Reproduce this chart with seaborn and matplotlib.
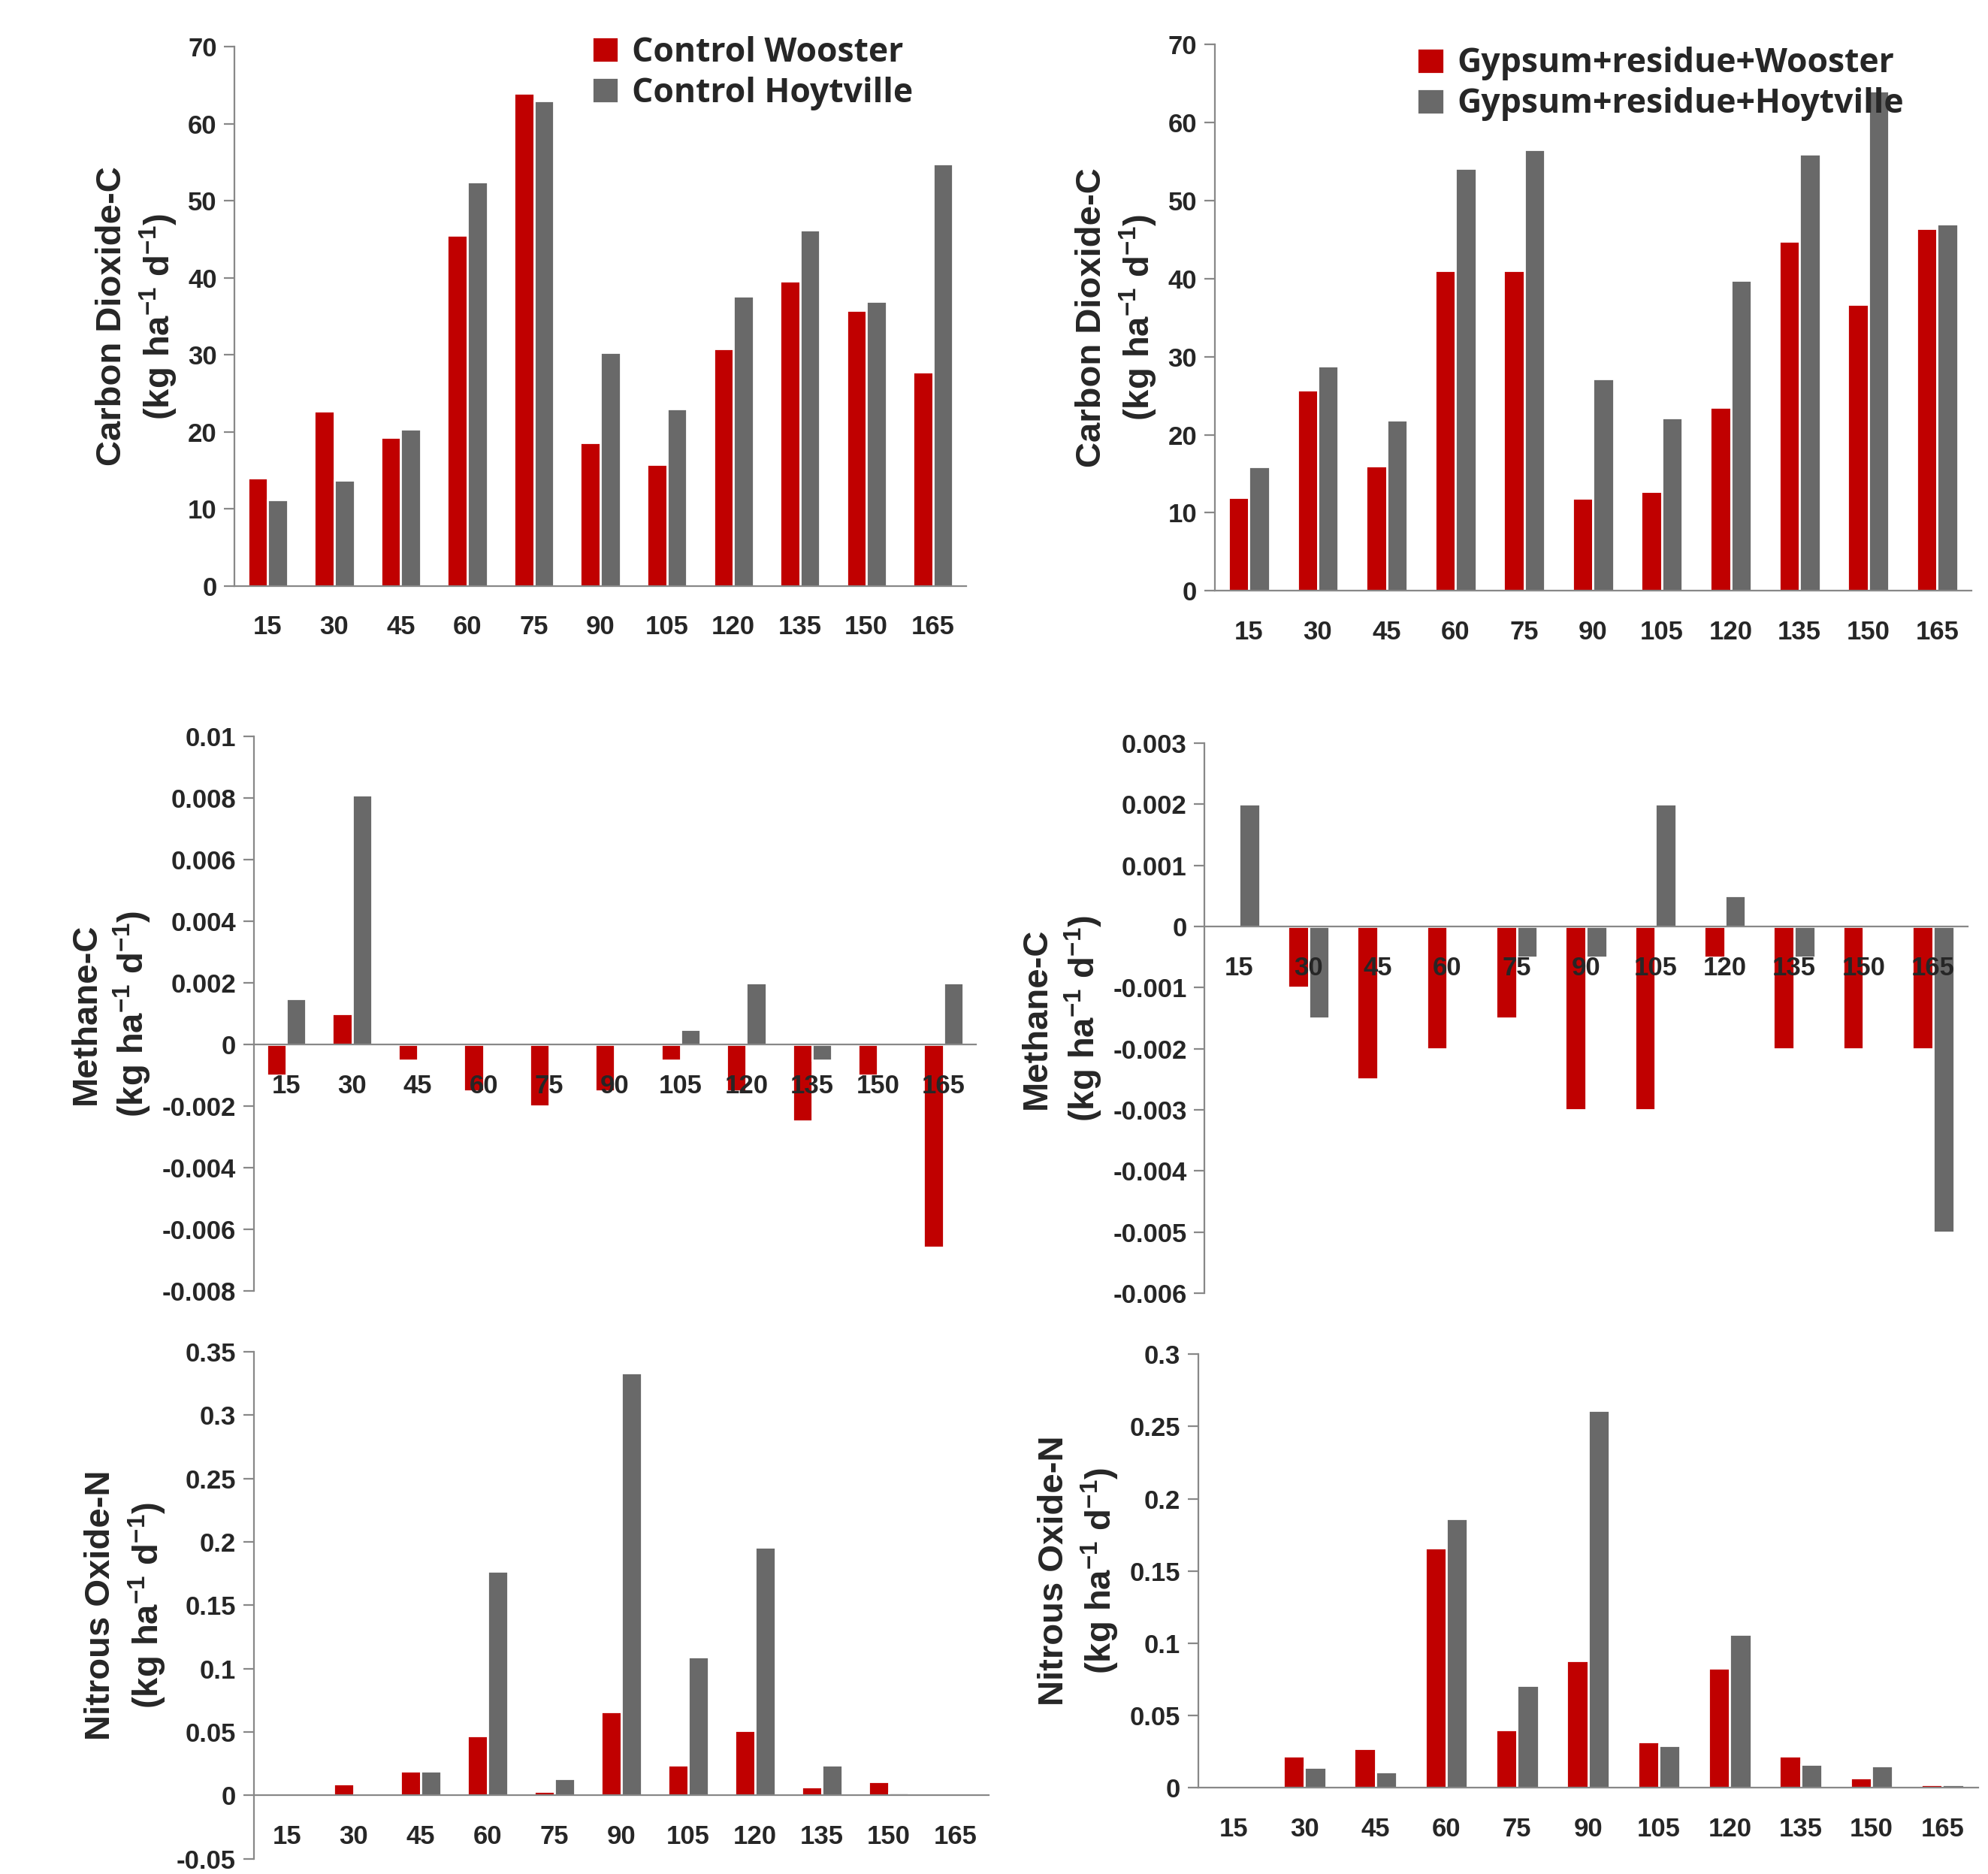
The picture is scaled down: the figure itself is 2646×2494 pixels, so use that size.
import numpy as np
import pandas as pd
import matplotlib
matplotlib.use("Agg")
import matplotlib.pyplot as plt
import seaborn as sns

sns.set_style("white")
plt.rcParams['font.family'] = ['Liberation Sans', 'DejaVu Sans']
plt.rcParams['font.weight'] = 'bold'
plt.rcParams['mathtext.fontset'] = 'custom'
plt.rcParams['mathtext.rm'] = 'Liberation Sans:bold'
plt.rcParams['mathtext.bf'] = 'Liberation Sans:bold'

days = [15, 30, 45, 60, 75, 90, 105, 120, 135, 150, 165]

co2_ctrl_wooster = [14, 22.7, 19.3, 45.5, 64, 18.6, 15.8, 30.8, 39.6, 35.8, 27.8]
co2_ctrl_hoyt = [11.2, 13.7, 20.4, 52.5, 63, 30.3, 23, 37.6, 46.2, 37, 54.8]
co2_gyp_wooster = [12, 25.7, 16, 41, 41, 11.9, 12.7, 23.5, 44.8, 36.7, 46.4]
co2_gyp_hoyt = [15.9, 28.8, 21.9, 54.1, 56.5, 27.2, 22.2, 39.8, 56, 64, 47]

ch4_ctrl_wooster = [-0.001, 0.001, -0.0005, -0.0015, -0.002, -0.0015, -0.0005, -0.0015, -0.0025, -0.001, -0.0066]
ch4_ctrl_hoyt = [0.0015, 0.0081, 0, 0, 0, 0, 0.0005, 0.002, -0.0005, 0, 0.002]
ch4_gyp_wooster = [0.00002, -0.001, -0.0025, -0.002, -0.0015, -0.003, -0.003, -0.0005, -0.002, -0.002, -0.002]
ch4_gyp_hoyt = [0.002, -0.0015, 0, 0, -0.0005, -0.0005, 0.002, 0.0005, -0.0005, 0, -0.005]

n2o_ctrl_wooster = [0, 0.009, 0.019, 0.047, 0.003, 0.066, 0.024, 0.051, 0.007, 0.011, 0.001]
n2o_ctrl_hoyt = [0, 0.001, 0.019, 0.177, 0.013, 0.333, 0.109, 0.196, 0.024, 0.002, 0.001]
n2o_gyp_wooster = [0, 0.022, 0.027, 0.166, 0.04, 0.088, 0.032, 0.083, 0.022, 0.007, 0.002]
n2o_gyp_hoyt = [0, 0.014, 0.011, 0.186, 0.071, 0.261, 0.029, 0.106, 0.016, 0.015, 0.002]

ctrl_names = ["Control Wooster", "Control Hoytville"]
gyp_names = ["Gypsum+residue+Wooster", "Gypsum+residue+Hoytville"]
colors = ["#C00000", "#696969"]

W, H = 1568, 1478
fig = plt.figure(figsize=(13.23, 12.47), dpi=200)


def make_axes(x0, y0, x1, y1):
    return fig.add_axes([x0 / W, 1 - y1 / H, (x1 - x0) / W, (y1 - y0) / H])


def panel(box, w, h, names, ylim, yticks, fmt, ylabel, legend=None):
    ax = make_axes(*box)
    df = pd.DataFrame({"Day": [str(d) for d in days] * 2,
                       "Value": w + h,
                       "Series": [names[0]] * len(days) + [names[1]] * len(days)})
    sns.barplot(data=df, x="Day", y="Value", hue="Series", palette=colors,
                width=0.6, saturation=1, ax=ax, legend=legend is not None)
    ax.set_ylim(*ylim)
    ax.set_xlim(-0.5, len(days) - 0.5)
    ax.set_yticks(yticks)
    ax.set_yticklabels([fmt(v) for v in yticks])
    ax.set_xticks(range(len(days)))
    ax.set_xticklabels([str(d) for d in days])
    ax.set_xticks(np.arange(-0.5, len(days)), minor=True)
    ax.tick_params(axis="both", labelsize=12.5)
    ax.tick_params(axis="x", which="major", length=0, pad=14)
    ax.tick_params(axis="x", which="minor", length=6, color="#888888", direction="out")
    ax.tick_params(axis="y", length=5, color="#888888", direction="out", left=True)
    for s in ["top", "right"]:
        ax.spines[s].set_visible(False)
    ax.spines["bottom"].set_position(("data", 0))
    ax.spines["bottom"].set_color("#888888")
    ax.spines["left"].set_color("#888888")
    ax.xaxis.set_zorder(5)
    ax.set_xlabel("")
    ax.set_ylabel(ylabel, fontweight="bold", fontsize=17, linespacing=1.3)
    ax.grid(False)
    if legend is not None:
        ax.legend(loc="upper left", bbox_to_anchor=legend, frameon=False,
                  prop={"family": "Open Sans", "weight": "bold", "size": 16},
                  handlelength=0.8, handleheight=0.8, handletextpad=0.4,
                  labelspacing=0.2, borderaxespad=0)
    return ax


def gfmt(v):
    s = f"{v:.3f}".rstrip("0").rstrip(".")
    return "0" if s in ("0", "-0") else s


co2_lab = "Carbon Dioxide-C\n(kg ha$^{-1}$ d$^{-1}$)"
ch4_lab = "Methane-C\n(kg ha$^{-1}$ d$^{-1}$)"
n2o_lab = "Nitrous Oxide-N\n(kg ha$^{-1}$ d$^{-1}$)"

panel((185, 37, 762, 462), co2_ctrl_wooster, co2_ctrl_hoyt, ctrl_names, (0, 70),
      list(range(0, 71, 10)), lambda v: str(int(v)), co2_lab, legend=(0.47, 1.045))
panel((958, 35, 1555, 466), co2_gyp_wooster, co2_gyp_hoyt, gyp_names, (0, 70),
      list(range(0, 71, 10)), lambda v: str(int(v)), co2_lab, legend=(0.25, 1.02))
panel((200, 581, 770, 1018), ch4_ctrl_wooster, ch4_ctrl_hoyt, ctrl_names, (-0.008, 0.01),
      list(np.round(np.arange(-0.008, 0.0101, 0.002), 3)), gfmt, ch4_lab)
panel((950, 586, 1552, 1020), ch4_gyp_wooster, ch4_gyp_hoyt, gyp_names, (-0.006, 0.003),
      list(np.round(np.arange(-0.006, 0.0031, 0.001), 3)), gfmt, ch4_lab)
panel((200, 1066, 780, 1466), n2o_ctrl_wooster, n2o_ctrl_hoyt, ctrl_names, (-0.05, 0.35),
      list(np.round(np.arange(-0.05, 0.351, 0.05), 2)), gfmt, n2o_lab)
panel((945, 1068, 1560, 1410), n2o_gyp_wooster, n2o_gyp_hoyt, gyp_names, (0, 0.3),
      list(np.round(np.arange(0, 0.301, 0.05), 2)), gfmt, n2o_lab)

fig.savefig("out.png", dpi=200)
